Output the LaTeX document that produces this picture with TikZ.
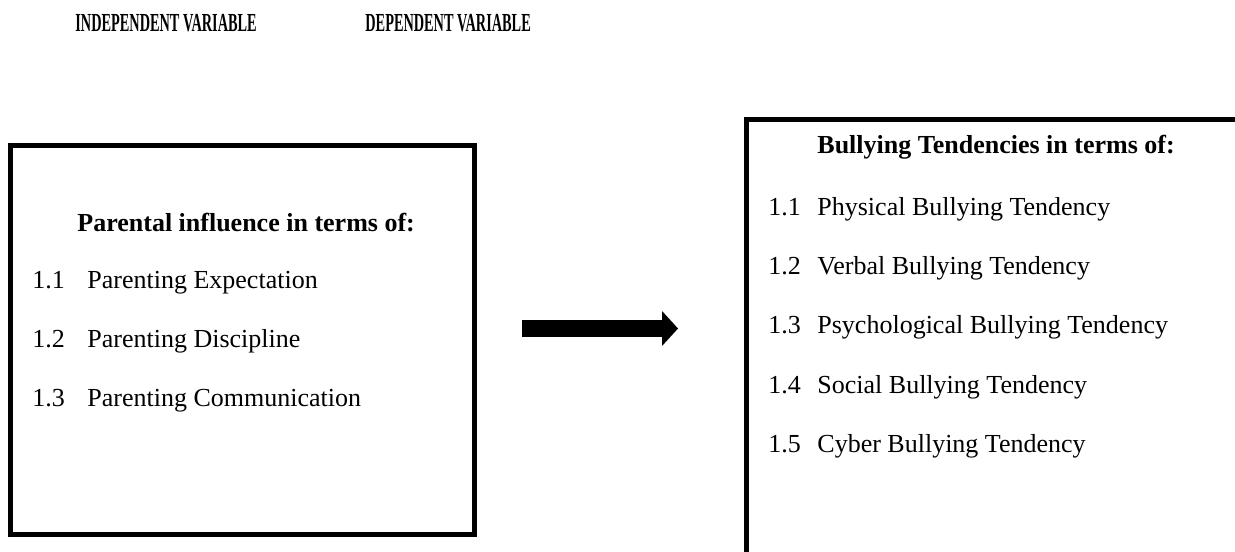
\documentclass[tikz,border=0pt]{standalone}
\usepackage{fontspec}
\setmainfont{Liberation Serif}
\usepackage{tikz}
\usetikzlibrary{positioning, calc, arrows.meta}

\tikzset{
  vartitle/.style={anchor=base west, inner sep=0pt, font=\fontsize{13pt}{15pt}\selectfont\bfseries},
  boxframe/.style={draw, line width=2.5pt, inner sep=0pt},
  boxhead/.style={anchor=base west, inner sep=0pt, font=\fontsize{13pt}{15pt}\selectfont\bfseries},
  itemtext/.style={anchor=base west, inner sep=0pt, font=\fontsize{13pt}{15pt}\selectfont}
}

\begin{document}
\begin{tikzpicture}[x=0.5pt, y=-0.5pt]
    \useasboundingbox (0,0) rectangle (1235,551);

    % Column titles
    \node[vartitle] (indtitle) at (75,32) {\scalebox{0.55}[1]{INDEPENDENT VARIABLE}};
    \node[vartitle] (deptitle) at (365,32) {\scalebox{0.55}[1]{DEPENDENT VARIABLE}};

    % Left box (independent variable)
    \node[boxframe, minimum width=232pt, minimum height=194.5pt] (lbox) at (242.5,340) {};
    \node[boxhead] (lhead) at (77,231) {Parental influence in terms of:};
    \foreach \i/\txt in {1/Expectation, 2/Discipline, 3/Communication} {
        \node[itemtext] (lnum\i) at (32, 288 + 59.3*\i - 59.3) {1.\i};
        \node[itemtext] (ltext\i) at (87, 288 + 59.3*\i - 59.3) {Parenting \txt};
    }

    % Right box (dependent variable), runs off the page
    \begin{scope}
        \clip (0,0) rectangle (1235,551);
        \node[boxframe, minimum width=252pt, minimum height=225.25pt] (rbox) at (998,344.75) {};
    \end{scope}
    \node[boxhead] (rhead) at (817,153.3) {Bullying Tendencies in terms of:};
    \foreach \i/\txt in {1/Physical, 2/Verbal, 3/Psychological, 4/Social, 5/Cyber} {
        \node[itemtext] (rnum\i) at (768, 215 + 59.4*\i - 59.4) {1.\i};
        \node[itemtext] (rtext\i) at (817, 215 + 59.4*\i - 59.4) {\txt{} Bullying Tendency};
    }

    % Arrow between the boxes
    \coordinate (arrowtail) at (522,328.5);
    \coordinate (arrowtip) at (678,328.5);
    \draw[line width=8.5pt, -{Triangle[length=8pt, width=17.5pt, line width=0pt]}] (arrowtail) -- (arrowtip);
\end{tikzpicture}
\end{document}
